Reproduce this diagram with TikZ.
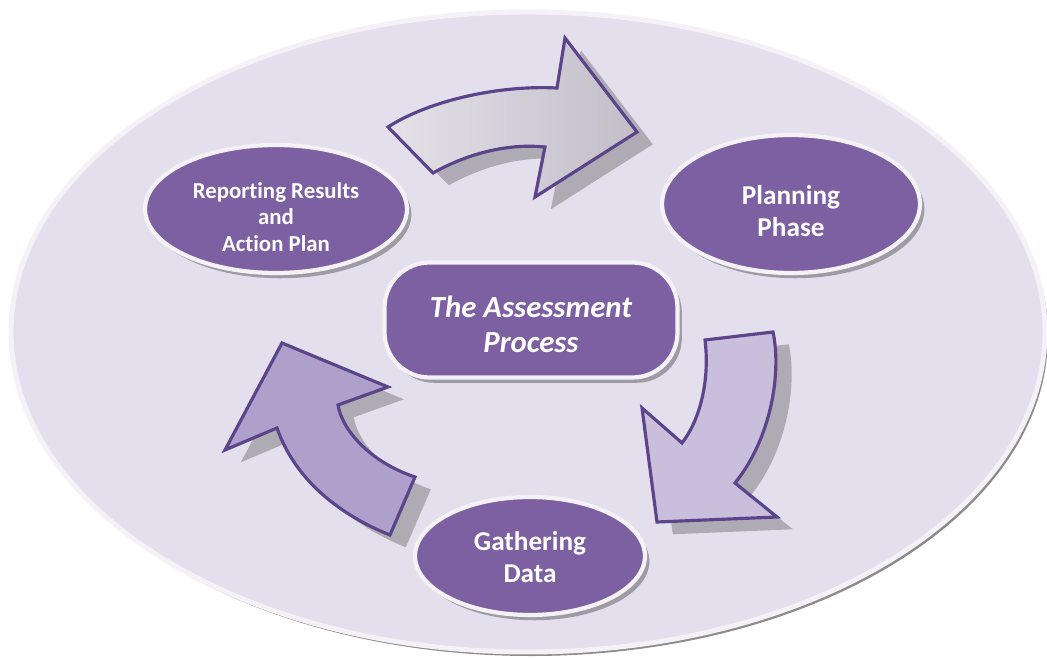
\documentclass[tikz,border=0pt]{standalone}
\usepackage{fontspec}
\setmainfont[Ligatures=NoCommon]{Carlito}
\usetikzlibrary{shapes.geometric, shadows, positioning}

\definecolor{bgLilac}{HTML}{E4DFEC}
\definecolor{rimWhite}{HTML}{F4F2F6}
\definecolor{phasePurple}{HTML}{7C60A2}
\definecolor{arrowLine}{HTML}{5B4489}
\definecolor{arrowRight}{HTML}{C9BFDC}
\definecolor{arrowLeft}{HTML}{AEA0CB}
\definecolor{arrowTopLight}{HTML}{E4E1E8}
\definecolor{arrowTopDark}{HTML}{C2BEC9}

\begin{document}
\begin{tikzpicture}[
            x=0.02cm, y=-0.02cm,
            phase/.style={
                ellipse, draw=rimWhite, line width=2.4pt, fill=phasePurple, inner sep=0pt,
                drop shadow={shadow xshift=2.5pt, shadow yshift=-3pt, fill=black, opacity=0.3}
            },
            phaseText/.style={
                text=white, align=center, inner sep=0pt,
                font=\bfseries\fontsize{15.5}{18.5}\selectfont
            },
            bendArrow/.style={
                draw=arrowLine, line width=1.8pt, line join=miter,
                drop shadow={shadow xshift=9pt, shadow yshift=-7pt, fill=black!80, opacity=0.3}
            }
        ]
        \fill[white] (0, 0) rectangle (1047, 658);
        \useasboundingbox (0, 0) rectangle (1047, 658);

        % back disc
        \fill[black!45] (531, 336) ellipse [x radius=517, y radius=320];
        \filldraw[fill=bgLilac, draw=rimWhite, line width=2.8pt] (528, 332) ellipse [x radius=517, y radius=320];

        % the three turning arrows
        \path[bendArrow, left color=arrowTopLight, right color=arrowTopDark]
            (388, 127) .. controls (430, 100) and (500, 85) .. (557, 88)
            -- (565, 38) -- (637, 132) -- (535, 197) -- (545, 147)
            .. controls (505, 143) and (465, 155) .. (433, 173) -- cycle;
        \path[bendArrow, fill=arrowRight]
            (705, 340) -- (773, 332)
            .. controls (782, 375) and (770, 440) .. (735, 483)
            -- (777, 517) -- (657, 522) -- (642, 408) -- (682, 443)
            .. controls (700, 420) and (710, 380) .. cycle;
        \path[bendArrow, fill=arrowLeft]
            (415, 477) -- (390, 535)
            .. controls (340, 515) and (295, 480) .. (277, 428)
            -- (225, 450) -- (282, 343) -- (388, 387) -- (338, 405)
            .. controls (342, 430) and (370, 462) .. cycle;

        % phases
        \node(reportNode)[phase, minimum width=5.24cm, minimum height=2.56cm] at (276, 209) {};
        \node(planNode)[phase, minimum width=5.16cm, minimum height=2.76cm] at (791, 204) {};
        \node(gatherNode)[phase, minimum width=4.6cm, minimum height=2.36cm] at (530, 556) {};
        \node(processNode)[draw=rimWhite, line width=2.4pt, fill=phasePurple, rounded corners=0.9cm,
            minimum width=5.86cm, minimum height=2.3cm,
            drop shadow={shadow xshift=2.5pt, shadow yshift=-3pt, fill=black, opacity=0.3}] at (531, 320) {};

        \node(reportText)[phaseText, font=\bfseries\fontsize{13}{15.2}\selectfont]
            at ([yshift=-0.16cm]reportNode.center) {Reporting Results\\and\\Action Plan};
        \node(planText)[phaseText] at ([yshift=-0.14cm]planNode.center) {Planning\\Phase};
        \node(gatherText)[phaseText] at ([yshift=-0.02cm]gatherNode.center) {Gathering\\Data};
        \node(processText)[phaseText, font=\bfseries\itshape\fontsize{17.5}{20}\selectfont]
            at ([yshift=-0.08cm]processNode.center) {The Assessment\\Process};
    \end{tikzpicture}
\end{document}
